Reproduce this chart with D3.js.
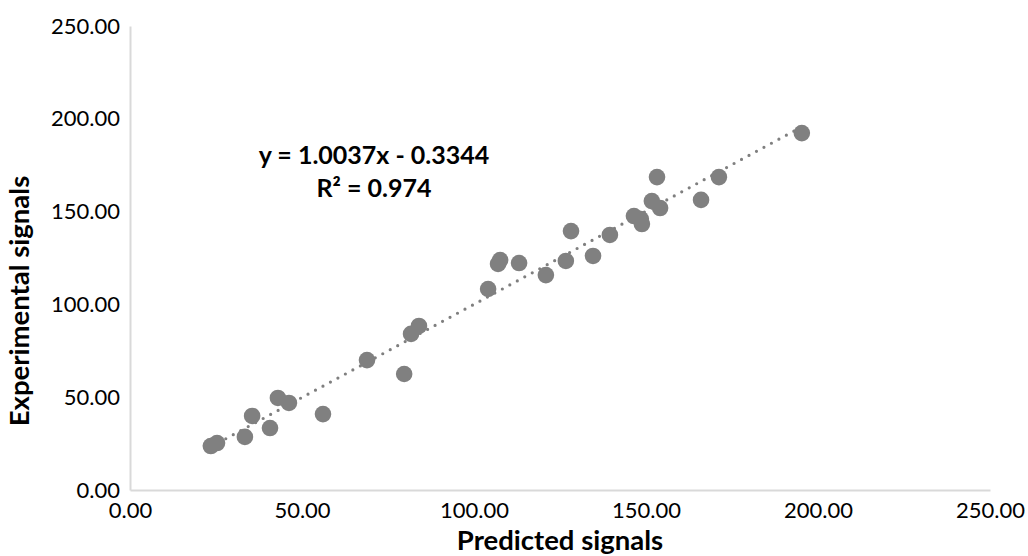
<!DOCTYPE html>
<html>
<head>
<meta charset="utf-8">
<script src="https://cdn.jsdelivr.net/npm/d3@7"></script>
<style>
  body { margin: 0; background: #fff; }
  svg { display: block; font-family: Lato, "Open Sans", sans-serif; }
</style>
</head>
<body>
<svg id="chart" width="1028" height="556"></svg>
<script>
// values
var predicted = [23.5, 25.3, 33.4, 35.5, 40.7, 43.0, 46.2, 56.1, 68.9, 79.7,
    81.7, 84.0, 104.1, 107.0, 107.6, 113.1, 120.9, 126.7, 128.2, 134.6,
    139.5, 146.5, 148.5, 148.8, 151.7, 154.1, 153.2, 166.0, 171.2, 195.3];
var experimental = [23.7, 25.3, 28.6, 39.9, 33.4, 49.6, 46.9, 40.9, 70.0, 62.5,
    84.1, 88.4, 108.3, 121.8, 123.9, 122.3, 115.8, 123.4, 139.5, 126.1,
    137.4, 147.6, 146.0, 143.3, 155.7, 151.9, 168.6, 156.3, 168.6, 192.3];
var ticks = [0, 50, 100, 150, 200, 250];
var slope = 1.0037, intercept = -0.3344;
var eqLines = ["y = 1.0037x - 0.3344", "R² = 0.974"];

var margins = { top: 26, left: 130, right: 38, bottom: 66 };
var width = 1028 - margins.left - margins.right;
var height = 556 - margins.top - margins.bottom;

var svg = d3.select("#chart");
var g = svg.append("g")
    .attr("transform", `translate(${margins.left}, ${margins.top})`);

var x = d3.scaleLinear().domain([0, 250]).range([0, width]);
var y = d3.scaleLinear().domain([0, 250]).range([height, 0]);
var fmt = d3.format(".2f");

// axes: light grey line, no tick marks
var xAxis = g.append("g")
    .attr("transform", `translate(0, ${height})`)
    .call(d3.axisBottom(x).tickValues(ticks).tickFormat(fmt).tickSize(0).tickPadding(12));
var yAxis = g.append("g")
    .call(d3.axisLeft(y).tickValues(ticks).tickFormat(fmt).tickSize(0).tickPadding(10));

[xAxis, yAxis].forEach(function(a) {
    a.select(".domain").attr("stroke", "#d9d9d9").attr("stroke-width", 2);
    a.selectAll("text")
        .attr("fill", "#000")
        .style("font-size", "22px")
        .style("font-family", "Lato, 'Open Sans', sans-serif");
});

// trendline over the data range
var xr = d3.extent(predicted);
g.append("line")
    .attr("x1", x(xr[0])).attr("y1", y(slope * xr[0] + intercept))
    .attr("x2", x(xr[1])).attr("y2", y(slope * xr[1] + intercept))
    .attr("stroke", "#7f7f7f")
    .attr("stroke-width", 3.2)
    .attr("stroke-linecap", "round")
    .attr("stroke-dasharray", "0 8.5");

// points
g.append("g")
    .selectAll("circle")
    .data(predicted)
    .enter()
    .append("circle")
    .attr("cx", function(d) { return x(d); })
    .attr("cy", function(d, i) { return y(experimental[i]); })
    .attr("r", 8.3)
    .attr("fill", "#808080");

// equation label
svg.append("g")
    .selectAll("text")
    .data(eqLines)
    .enter()
    .append("text")
    .attr("x", 374)
    .attr("y", function(d, i) { return 164 + i * 33; })
    .attr("text-anchor", "middle")
    .style("font-size", "25px")
    .style("font-weight", "bold")
    .text(function(d) { return d; });

// axis titles
svg.append("text")
    .attr("x", margins.left + width / 2)
    .attr("y", 550)
    .attr("text-anchor", "middle")
    .style("font-size", "27.5px")
    .style("font-weight", "bold")
    .text("Predicted signals");

svg.append("text")
    .attr("transform", "translate(29, 301) rotate(-90)")
    .attr("text-anchor", "middle")
    .style("font-size", "27.5px")
    .style("font-weight", "bold")
    .text("Experimental signals");
</script>
</body>
</html>
